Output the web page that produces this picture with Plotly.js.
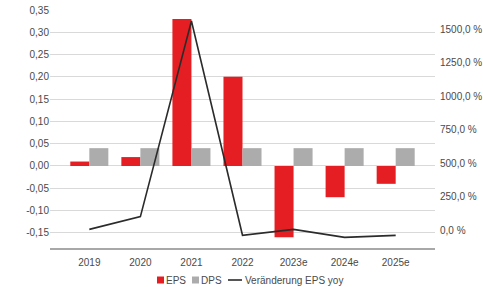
<!DOCTYPE html>
<html>
<head>
<meta charset="utf-8">
<script src="https://cdn.plot.ly/plotly-3.0.1.min.js"></script>
<style>
  html, body { margin: 0; padding: 0; background: #ffffff; }
  #chart { width: 483px; height: 287px; }
</style>
</head>
<body>
<div id="chart"></div>
<script>
const categories = ["2019", "2020", "2021", "2022", "2023e", "2024e", "2025e"];
const eps = [0.01, 0.02, 0.33, 0.20, -0.16, -0.07, -0.04];
const dps = [0.04, 0.04, 0.04, 0.04, 0.04, 0.04, 0.04];
const epsChangePct = [5, 100, 1560, -39, 5, -55, -40];
const leftTicks = [-0.15, -0.10, -0.05, 0.00, 0.05, 0.10, 0.15, 0.20, 0.25, 0.30, 0.35];
const rightTicks = [0, 250, 500, 750, 1000, 1250, 1500];
const seriesNames = ["EPS", "DPS", "Veränderung EPS yoy"];

const RED = "#e41e22", GREY = "#acacac", LINE = "#2b2b2b", TXT = "#4a4a4a";

const rightTickText = rightTicks.map(v => v.toFixed(1).replace(".", ",") + " %");
const leftTickText = leftTicks.map(v => v.toFixed(2).replace(".", ","));

const traces = [
  { type: "bar", name: seriesNames[0], x: categories, y: eps, marker: { color: RED }, yaxis: "y" },
  { type: "bar", name: seriesNames[1], x: categories, y: dps, marker: { color: GREY }, yaxis: "y" },
  { type: "scatter", mode: "lines", name: seriesNames[2], x: categories, y: epsChangePct,
    line: { color: LINE, width: 1.6 }, yaxis: "y2" }
];

// plot area in pixels: x 50..435, y 10..248
const px = x => (x - 50) / 385;
const py = y => (248 - y) / 238;
const legY = 280;

const shapes = [
  { type: "rect", xref: "paper", yref: "paper", x0: px(157), x1: px(164), y0: py(legY + 3.5), y1: py(legY - 3.5),
    fillcolor: RED, line: { width: 0 } },
  { type: "rect", xref: "paper", yref: "paper", x0: px(192), x1: px(199), y0: py(legY + 3.5), y1: py(legY - 3.5),
    fillcolor: GREY, line: { width: 0 } },
  { type: "line", xref: "paper", yref: "paper", x0: px(228), x1: px(242), y0: py(legY), y1: py(legY),
    line: { color: LINE, width: 1.6 } }
];

const annotations = [
  { text: seriesNames[0], x: px(165), xanchor: "left" },
  { text: seriesNames[1], x: px(200), xanchor: "left" },
  { text: seriesNames[2], x: px(244), xanchor: "left" }
].map(a => Object.assign({
  xref: "paper", yref: "paper", y: py(legY), yanchor: "middle", showarrow: false,
  font: { size: 10, color: TXT }, borderpad: 0
}, a));

const layout = {
  width: 483, height: 287,
  margin: { l: 50, r: 48, t: 10, b: 39 },
  paper_bgcolor: "#ffffff", plot_bgcolor: "#ffffff",
  font: { family: "Liberation Sans, Arial, sans-serif", size: 10, color: TXT },
  barmode: "group", bargap: 0.255, bargroupgap: 0,
  showlegend: false,
  shapes: shapes,
  annotations: annotations,
  xaxis: {
    type: "category", range: [-0.77, 6.77],
    showline: true, linecolor: "#a8a8a8", linewidth: 1.5,
    showgrid: false, zeroline: false,
    ticks: "outside", ticklen: 4, tickcolor: "rgba(0,0,0,0)",
    tickfont: { size: 10, color: TXT }
  },
  yaxis: {
    range: [-0.184, 0.35],
    tickvals: leftTicks, ticktext: leftTickText,
    showgrid: true, gridcolor: "#d9d9d9", gridwidth: 1,
    zeroline: false, showline: false, ticks: "",
    tickfont: { size: 10, color: TXT }
  },
  yaxis2: {
    overlaying: "y", side: "right",
    range: [-134, 1642],
    tickvals: rightTicks, ticktext: rightTickText,
    showgrid: false, zeroline: false, showline: false, ticks: "",
    ticklabelstandoff: 4,
    tickfont: { size: 10, color: TXT }
  }
};

Plotly.newPlot("chart", traces, layout, { displayModeBar: false, staticPlot: true });
</script>
</body>
</html>
